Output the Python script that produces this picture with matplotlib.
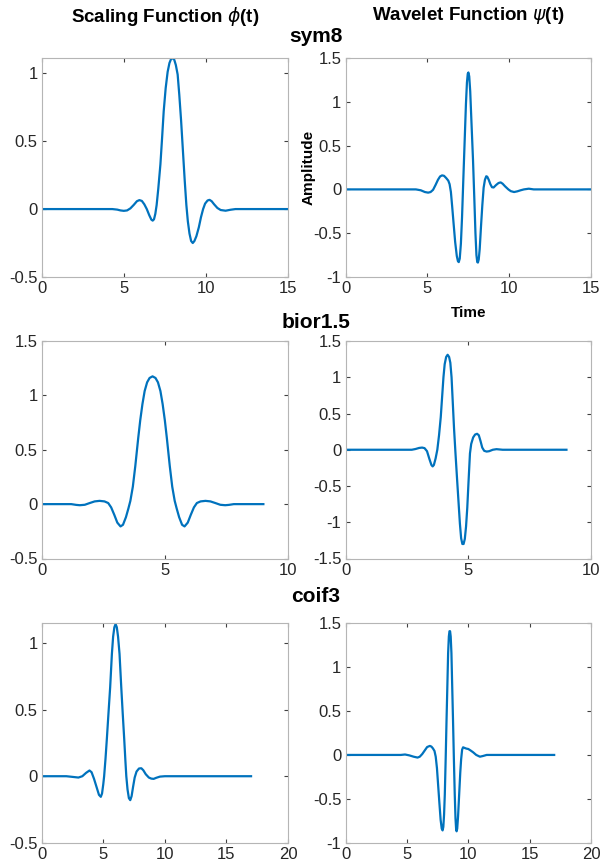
import matplotlib
matplotlib.use('Agg')
import matplotlib.pyplot as plt

plt.rcParams['font.family'] = ['Liberation Sans', 'DejaVu Sans']
plt.rcParams['mathtext.fontset'] = 'dejavusans'

# values (t, amplitude)
sym8_phi_t = [0, 4.3, 4.6, 4.8, 5.0, 5.2, 5.4, 5.6, 5.8, 5.95, 6.1, 6.25, 6.4, 6.55, 6.68, 6.76,
              6.84, 6.92, 7.0, 7.1, 7.23, 7.33, 7.43, 7.55, 7.67, 7.78, 7.88, 7.98, 8.07, 8.17,
              8.28, 8.38, 8.49, 8.6, 8.71, 8.81, 8.9, 9.0, 9.1, 9.2, 9.3, 9.42, 9.57, 9.7, 9.83,
              9.95, 10.1, 10.22, 10.35, 10.5, 10.7, 10.9, 11.2, 11.5, 11.8, 15]
sym8_phi_v = [0, 0, -0.004, -0.01, -0.013, -0.01, 0.005, 0.03, 0.058, 0.066, 0.06, 0.035, 0.0,
              -0.045, -0.078, -0.085, -0.075, -0.035, 0.03, 0.15, 0.33, 0.52, 0.72, 0.89, 1.01,
              1.075, 1.105, 1.11, 1.1, 1.06, 0.99, 0.84, 0.65, 0.43, 0.21, 0.03, -0.09, -0.18,
              -0.235, -0.25, -0.235, -0.2, -0.134, -0.06, 0.0, 0.04, 0.063, 0.068, 0.058, 0.035,
              0.008, -0.007, -0.012, -0.005, 0, 0]

sym8_psi_t = [0, 4.3, 4.6, 4.85, 5.05, 5.2, 5.35, 5.5, 5.65, 5.78, 5.9, 6.02, 6.15, 6.28, 6.36,
              6.44, 6.52, 6.6, 6.7, 6.8, 6.87, 6.92, 6.98, 7.05, 7.12, 7.2, 7.28, 7.36, 7.42,
              7.47, 7.51, 7.56, 7.62, 7.7, 7.79, 7.87, 7.94, 8.0, 8.05, 8.09, 8.14, 8.2, 8.28,
              8.36, 8.44, 8.52, 8.6, 8.66, 8.75, 8.85, 8.95, 9.05, 9.2, 9.35, 9.48, 9.6, 9.75,
              9.95, 10.1, 10.3, 10.5, 10.7, 10.9, 11.2, 11.5, 15]
sym8_psi_v = [0, 0, -0.01, -0.03, -0.037, -0.03, -0.005, 0.05, 0.11, 0.148, 0.16, 0.155, 0.13,
              0.1, 0.06, -0.03, -0.2, -0.38, -0.6, -0.76, -0.82, -0.83, -0.79, -0.62, -0.32,
              0.12, 0.55, 0.98, 1.22, 1.32, 1.335, 1.29, 1.12, 0.75, 0.34, -0.1, -0.5, -0.75,
              -0.83, -0.835, -0.8, -0.68, -0.42, -0.18, 0.02, 0.11, 0.15, 0.145, 0.11, 0.06,
              0.025, 0.022, 0.05, 0.073, 0.08, 0.065, 0.035, 0.0, -0.02, -0.03, -0.022, -0.01,
              0.0, 0.008, 0, 0]

bior_phi_t = [0, 1.2, 1.4, 1.55, 1.75, 1.95, 2.15, 2.35, 2.55, 2.7, 2.82, 2.95, 3.07, 3.2, 3.3,
              3.42, 3.52, 3.6, 3.7, 3.8, 3.92, 4.0, 4.09, 4.18, 4.28, 4.38, 4.5, 4.62, 4.72,
              4.82, 4.91, 5.0, 5.08, 5.2, 5.3, 5.4, 5.48, 5.58, 5.7, 5.8, 5.93, 6.05, 6.18, 6.3,
              6.45, 6.65, 6.85, 7.05, 7.25, 7.45, 7.6, 7.8, 9]
bior_phi_v = [0, 0, -0.007, -0.01, -0.006, 0.01, 0.025, 0.03, 0.025, 0.01, -0.03, -0.1, -0.17,
              -0.205, -0.19, -0.12, -0.04, 0.03, 0.16, 0.35, 0.61, 0.77, 0.92, 1.04, 1.12, 1.16,
              1.175, 1.16, 1.12, 1.04, 0.92, 0.77, 0.61, 0.35, 0.16, 0.03, -0.04, -0.12, -0.19,
              -0.205, -0.17, -0.1, -0.03, 0.01, 0.025, 0.03, 0.025, 0.01, -0.006, -0.01, -0.007,
              0, 0]

bior_psi_t = [0, 2.7, 2.85, 3.0, 3.12, 3.22, 3.32, 3.42, 3.5, 3.55, 3.6, 3.67, 3.74, 3.81, 3.88,
              3.94, 3.99, 4.04, 4.1, 4.16, 4.22, 4.27, 4.32, 4.37, 4.42, 4.48, 4.54, 4.6, 4.66,
              4.71, 4.76, 4.81, 4.86, 4.91, 4.96, 5.01, 5.07, 5.12, 5.2, 5.28, 5.36, 5.43, 5.5,
              5.57, 5.65, 5.75, 5.85, 6.0, 6.15, 6.4, 9]
bior_psi_v = [0, 0, 0.01, 0.025, 0.03, 0.022, -0.02, -0.13, -0.21, -0.23, -0.21, -0.12, 0.0,
              0.2, 0.45, 0.75, 1.0, 1.18, 1.28, 1.31, 1.28, 1.2, 1.0, 0.65, 0.3, -0.05, -0.38,
              -0.7, -1.02, -1.22, -1.3, -1.3, -1.23, -1.06, -0.8, -0.45, -0.05, 0.08, 0.17, 0.21,
              0.22, 0.2, 0.12, 0.03, -0.015, -0.025, -0.02, 0.0, 0.008, 0, 0]

coif_phi_t = [0, 2.0, 2.5, 2.98, 3.3, 3.6, 3.88, 4.05, 4.25, 4.45, 4.65, 4.8, 4.9, 5.0, 5.07,
              5.18, 5.29, 5.42, 5.56, 5.7, 5.8, 5.9, 6.0, 6.1, 6.2, 6.32, 6.46, 6.58, 6.7, 6.8,
              6.87, 6.97, 7.08, 7.19, 7.3, 7.42, 7.55, 7.7, 7.9, 8.09, 8.25, 8.45, 8.7, 8.9,
              9.09, 9.3, 9.6, 10.0, 17]
coif_phi_v = [0, 0, -0.005, -0.01, 0.0, 0.025, 0.043, 0.03, -0.02, -0.08, -0.14, -0.155, -0.13,
              -0.06, 0.0, 0.13, 0.28, 0.47, 0.67, 0.92, 1.05, 1.12, 1.145, 1.12, 1.05, 0.92,
              0.67, 0.47, 0.28, 0.11, 0.0, -0.1, -0.165, -0.18, -0.15, -0.08, -0.01, 0.035,
              0.058, 0.06, 0.045, 0.015, -0.01, -0.018, -0.02, -0.012, -0.003, 0, 0]

coif_psi_t = [0, 4.5, 4.85, 5.2, 5.55, 5.87, 6.05, 6.25, 6.45, 6.65, 6.87, 7.0, 7.12, 7.25,
              7.35, 7.45, 7.55, 7.65, 7.75, 7.84, 7.91, 7.97, 8.03, 8.09, 8.16, 8.23, 8.3, 8.36,
              8.42, 8.47, 8.52, 8.57, 8.63, 8.69, 8.76, 8.83, 8.9, 8.96, 9.01, 9.05, 9.1, 9.17,
              9.26, 9.35, 9.42, 9.5, 9.58, 9.7, 9.85, 10.0, 10.2, 10.4, 10.65, 10.95, 11.2,
              11.5, 17]
coif_psi_v = [0, 0, 0.005, -0.005, -0.02, -0.03, -0.02, 0.01, 0.05, 0.09, 0.103, 0.095, 0.075,
              0.045, -0.02, -0.15, -0.35, -0.55, -0.74, -0.84, -0.86, -0.82, -0.68, -0.45,
              -0.05, 0.39, 0.8, 1.16, 1.35, 1.41, 1.41, 1.35, 1.16, 0.8, 0.39, -0.05, -0.45,
              -0.72, -0.84, -0.87, -0.84, -0.7, -0.45, -0.2, -0.05, 0.06, 0.087, 0.08, 0.072,
              0.068, 0.05, 0.03, 0.0, -0.02, -0.012, 0, 0]

wavelet_names = ['sym8', 'bior1.5', 'coif3']
x_limits = [(0, 15), (0, 10), (0, 20)]
phi_ylims = [(-0.5, 1.112), (-0.5, 1.5), (-0.5, 1.15)]
psi_ylims = [(-1, 1.5), (-1.5, 1.5), (-1, 1.5)]
phi_yticks = [[-0.5, 0, 0.5, 1], [-0.5, 0, 0.5, 1, 1.5], [-0.5, 0, 0.5, 1]]
psi_yticks = [[-1, -0.5, 0, 0.5, 1, 1.5], [-1.5, -1, -0.5, 0, 0.5, 1, 1.5],
              [-1, -0.5, 0, 0.5, 1, 1.5]]
phi_data = [(sym8_phi_t, sym8_phi_v), (bior_phi_t, bior_phi_v), (coif_phi_t, coif_phi_v)]
psi_data = [(sym8_psi_t, sym8_psi_v), (bior_psi_t, bior_psi_v), (coif_psi_t, coif_psi_v)]

line_color = '#0072BD'
W, H = 602, 868


def style_axes(ax, xlim, ylim, yticks):
    ax.set_xlim(*xlim)
    ax.set_ylim(*ylim)
    ax.set_yticks(yticks)
    ax.set_yticklabels([f'{v:g}' for v in yticks])
    ax.set_xticks(list(range(xlim[0], xlim[1] + 1, 5)))
    ax.tick_params(direction='in', top=True, right=True, length=3, width=0.8,
                   color='#404040', labelcolor='#262626', labelsize=12, pad=3)
    for sp in ax.spines.values():
        sp.set_color('#b5b5b5')
        sp.set_linewidth(0.8)


fig = plt.figure(figsize=(W / 100, H / 100), dpi=100)

# axes boxes in pixels
col_px = [(41.7, 288.0), (345.5, 591.0)]
row_px = [(58.0, 277.0), (341.0, 558.5), (623.3, 842.7)]

for i in range(3):
    top, bot = row_px[i]
    for j in range(2):
        left, right = col_px[j]
        ax = fig.add_axes([left / W, 1 - bot / H, (right - left) / W, (bot - top) / H])
        if j == 0:
            t, v = phi_data[i]
            style_axes(ax, x_limits[i], phi_ylims[i], phi_yticks[i])
        else:
            t, v = psi_data[i]
            style_axes(ax, x_limits[i], psi_ylims[i], psi_yticks[i])
        ax.plot(t, v, color=line_color, linewidth=1.6, solid_joinstyle='round')
        if i == 0 and j == 1:
            ax.set_ylabel('Amplitude', fontsize=11, fontweight='bold', labelpad=-2)
            ax.set_xlabel('Time', fontsize=11, fontweight='bold', labelpad=7)

# column and row titles
fig.text(165 / W, 1 - 16 / H, r'Scaling Function $\phi$(t)', ha='center', va='center',
         fontsize=13.5, fontweight='bold')
fig.text(468 / W, 1 - 15 / H, r'Wavelet Function $\psi$(t)', ha='center', va='center',
         fontsize=13.5, fontweight='bold')
row_title_y = [37, 322, 597]
for name, y in zip(wavelet_names, row_title_y):
    fig.text(316 / W, 1 - y / H, name, ha='center', va='center', fontsize=15, fontweight='bold')

fig.savefig('out.png', dpi=100)
